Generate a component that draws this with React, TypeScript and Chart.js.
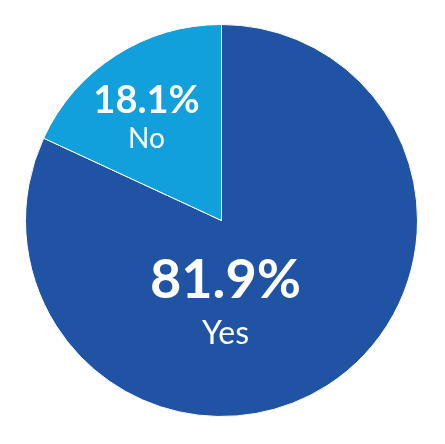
import React, { useEffect, useRef } from "react";
import { Chart, registerables } from "chart.js";

Chart.register(...registerables);

const categories = ["Yes", "No"];
const values = [81.9, 18.1];
const colors = ["#2053A4", "#11A0DC"];
// label placement relative to the pie centre (px) and font sizes
const labelOffsets = [
  { dx: 4, valueY: 77, nameY: 123, valueSize: 54, nameSize: 32 },
  { dx: -75, valueY: -108, nameY: -73, valueSize: 38, nameSize: 28 },
];

const labelPlugin = {
  id: "sliceLabels",
  afterDatasetsDraw(chart: any) {
    const ctx = chart.ctx;
    const meta = chart.getDatasetMeta(0);
    ctx.save();
    ctx.fillStyle = "#ffffff";
    ctx.textAlign = "center";
    ctx.textBaseline = "alphabetic";
    meta.data.forEach((arc: any, i: number) => {
      const o = labelOffsets[i];
      const cx = arc.x + o.dx;
      ctx.font = `bold ${o.valueSize}px Lato, "DejaVu Sans", sans-serif`;
      ctx.fillText(values[i].toFixed(1) + "%", cx, arc.y + o.valueY);
      ctx.font = `${o.nameSize}px Lato, "DejaVu Sans", sans-serif`;
      ctx.fillText(categories[i], cx, arc.y + o.nameY);
    });
    ctx.restore();
  },
};

export default function App() {
  const ref = useRef<HTMLCanvasElement | null>(null);
  useEffect(() => {
    if (!ref.current) return;
    const chart = new Chart(ref.current, {
      type: "pie",
      data: {
        labels: categories,
        datasets: [
          {
            data: values,
            backgroundColor: colors,
            borderColor: "#ffffff",
            borderWidth: 1,
          },
        ],
      },
      options: {
        animation: false,
        responsive: true,
        maintainAspectRatio: false,
        layout: { padding: { left: 25, right: 27, top: 24, bottom: 27 } },
        plugins: {
          legend: { display: false },
          tooltip: { enabled: false },
        },
      },
      plugins: [labelPlugin],
    });
    if ((document as any).fonts) {
      Promise.all([
        (document as any).fonts.load("bold 40px Lato"),
        (document as any).fonts.load("30px Lato"),
      ]).then(() => chart.update()).catch(() => {});
    }
    return () => chart.destroy();
  }, []);
  return (
    <div style={{ position: "fixed", left: 0, top: 0, width: 445, height: 444, background: "#fff" }}>
      <canvas ref={ref} />
    </div>
  );
}
